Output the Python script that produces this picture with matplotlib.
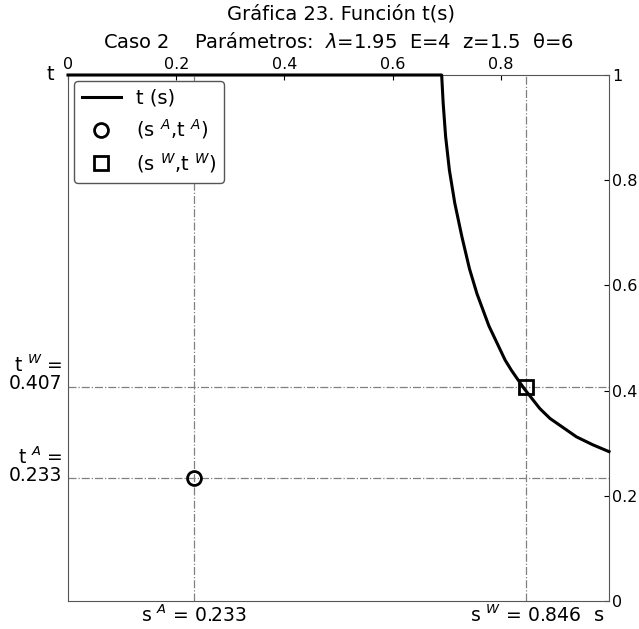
import numpy as np
import matplotlib
matplotlib.use("Agg")
import matplotlib.pyplot as plt

# curva t(s)
s_vals = [0.0, 0.6907, 0.6935, 0.698, 0.705, 0.715, 0.728, 0.742, 0.756, 0.778,
          0.808, 0.820, 0.843, 0.872, 0.891, 0.940, 0.970, 1.0]
t_vals = [1.0, 1.0, 0.946, 0.883, 0.819, 0.756, 0.693, 0.632, 0.584, 0.523,
          0.458, 0.438, 0.404, 0.366, 0.347, 0.312, 0.297, 0.284]

sA, tA = 0.233, 0.233
sW, tW = 0.846, 0.407

xticks = [0, 0.2, 0.4, 0.6, 0.8]
xticklabels = ["0", "0.2", "0.4", "0.6", "0.8"]
yticks = [0, 0.2, 0.4, 0.6, 0.8, 1]
yticklabels = ["0", "0.2", "0.4", "0.6", "0.8", "1"]

fig = plt.figure(figsize=(6.39, 6.29), dpi=100)
ax = fig.add_axes([68/639, 28/629, 541/639, 526/629])

ax.plot(s_vals, t_vals, color="black", lw=2.2, label="t (s)", clip_on=False, zorder=5,
        solid_joinstyle="round")
ax.plot(sA, tA, "o", mfc="none", mec="black", mew=2, ms=10, label="(s $^A$,t $^A$)", zorder=6)
ax.plot(sW, tW, "s", mfc="none", mec="black", mew=2, ms=10, label="(s $^W$,t $^W$)", zorder=6)

for v in (sA, sW):
    ax.axvline(v, color="gray", ls="-.", lw=0.9)
for v in (tA, tW):
    ax.axhline(v, color="gray", ls="-.", lw=0.9)

ax.set_xlim(0, 1)
ax.set_ylim(0, 1)
ax.xaxis.tick_top()
ax.yaxis.tick_right()
ax.set_xticks(xticks)
ax.set_xticklabels(xticklabels)
ax.set_yticks(yticks)
ax.set_yticklabels(yticklabels)
ax.tick_params(direction="in", labelsize=11.5, color="black", pad=2)
for sp in ax.spines.values():
    sp.set_color("#555555")

ax.text(-0.025, 1.0, "t", transform=ax.transAxes, ha="right", va="center", fontsize=14)
ax.text(0.99, -0.01, "s", transform=ax.transAxes, ha="right", va="top", fontsize=14)

ax.text(sA, -0.006, "s $^A$ = %.3f" % sA, ha="center", va="top", fontsize=13.5)
ax.text(sW, -0.006, "s $^W$ = %.3f" % sW, ha="center", va="top", fontsize=13.5)
ax.text(-0.01, tW - 0.012, "t $^W$ =\n%.3f" % tW, ha="right", va="bottom", fontsize=13.5,
        transform=ax.get_yaxis_transform(), linespacing=0.85)
ax.text(-0.01, tA - 0.012, "t $^A$ =\n%.3f" % tA, ha="right", va="bottom", fontsize=13.5,
        transform=ax.get_yaxis_transform(), linespacing=0.85)

ax.legend(loc="upper left", fontsize=14, fancybox=True, framealpha=1,
          edgecolor="#555555", handlelength=2.0, borderaxespad=0.3)

fig.text(0.533, 0.977, "Gráfica 23. Función t(s)", ha="center", va="center", fontsize=14)
fig.text(0.53, 0.933, "Caso 2    Parámetros:  $\\lambda$=1.95  E=4  z=1.5  θ=6",
         ha="center", va="center", fontsize=14)

fig.savefig("out.png", dpi=100)
